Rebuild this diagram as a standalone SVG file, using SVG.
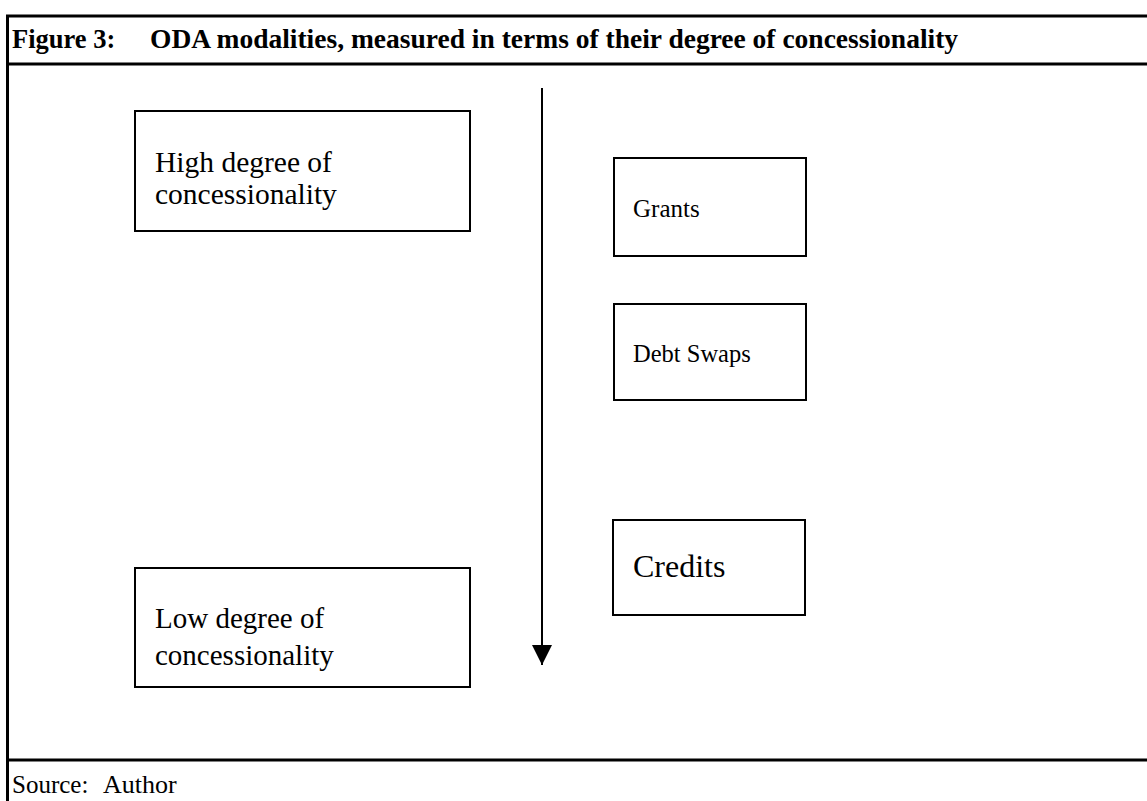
<svg xmlns="http://www.w3.org/2000/svg" width="1147" height="801" viewBox="0 0 1147 801">
<defs>
<style>
.frame{stroke:#000;stroke-width:3;fill:none}
.box{stroke:#000;stroke-width:2;fill:#fff}
.t{font-family:"Liberation Serif","Times New Roman",serif;fill:#000}
.title{font-weight:bold}
</style>
<marker id="ah" markerWidth="20" markerHeight="20" refX="20" refY="10" orient="auto" markerUnits="userSpaceOnUse" viewBox="0 0 20 20">
<path d="M0,0 L20,10 L0,20 Z" fill="#000"/>
</marker>
</defs>
<rect width="1147" height="801" fill="#fff"/>
<g id="frame">
<line class="frame" x1="6" y1="16" x2="1147" y2="16"/>
<line class="frame" x1="6" y1="64" x2="1147" y2="64"/>
<line class="frame" x1="6" y1="760" x2="1147" y2="760"/>
<line class="frame" x1="7.5" y1="16" x2="7.5" y2="801"/>
<text class="t title" x="12" y="48" font-size="26.5">Figure 3:</text>
<text class="t title" x="150" y="48" font-size="27.5">ODA modalities, measured in terms of their degree of concessionality</text>
<text class="t" x="12" y="793" font-size="25">Source:</text>
<text class="t" x="103" y="793" font-size="26">Author</text>
</g>
<g id="connectors">
<line x1="542" y1="88" x2="542" y2="665" stroke="#000" stroke-width="2" marker-end="url(#ah)"/>
</g>
<g id="node-high">
<rect class="box" x="135" y="111" width="335" height="120"/>
<text class="t" x="155" y="172" font-size="29.5">High degree of</text>
<text class="t" x="155" y="204" font-size="29.5">concessionality</text>
</g>
<g id="node-low">
<rect class="box" x="135" y="568" width="335" height="119"/>
<text class="t" x="155" y="628" font-size="29">Low degree of</text>
<text class="t" x="155" y="665" font-size="29">concessionality</text>
</g>
<g id="node-grants">
<rect class="box" x="614" y="158" width="192" height="98"/>
<text class="t" x="633" y="217" font-size="25">Grants</text>
</g>
<g id="node-debtswaps">
<rect class="box" x="614" y="304" width="192" height="96"/>
<text class="t" x="633" y="362" font-size="24.5">Debt Swaps</text>
</g>
<g id="node-credits">
<rect class="box" x="613" y="520" width="192" height="95"/>
<text class="t" x="633" y="577" font-size="32">Credits</text>
</g>
</svg>
